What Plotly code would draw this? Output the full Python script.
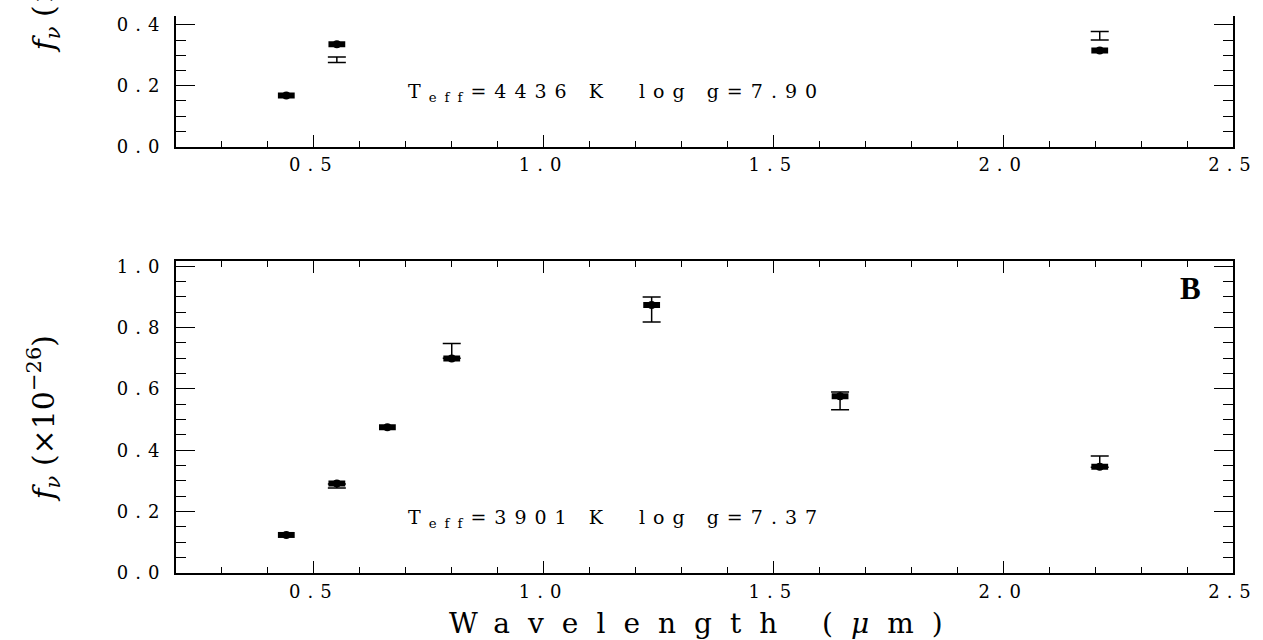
import plotly.graph_objects as go

# ---------------- data ----------------
# Panel A (top, partially cropped)
wl_top = [0.44, 0.55, 2.21]
model_top = [0.168, 0.336, 0.316]
obs_top_x = [0.55, 2.21]
obs_top_lo = [0.276, 0.350]
obs_top_hi = [0.294, 0.378]
label_top = "T<sub>eff</sub>=4436 K&nbsp;&nbsp;log g=7.90"

# Panel B (bottom)
wl_bot = [0.44, 0.55, 0.66, 0.80, 1.235, 1.645, 2.21]
model_bot = [0.124, 0.292, 0.475, 0.699, 0.874, 0.576, 0.346]
obs_bot_x = [0.55, 0.80, 1.235, 1.645, 2.21]
obs_bot_lo = [0.277, 0.700, 0.818, 0.532, 0.345]
obs_bot_hi = [0.290, 0.748, 0.900, 0.590, 0.381]
label_bot = "T<sub>eff</sub>=3901 K&nbsp;&nbsp;log g=7.37"

x_ticks = [0.5, 1.0, 1.5, 2.0, 2.5]
y_ticks_top = [0.0, 0.2, 0.4]
y_ticks_bot = [0.0, 0.2, 0.4, 0.6, 0.8, 1.0]

FONT = "DejaVu Serif"
LS = 7


def spaced(s, ls=LS):
    return f'<span style="letter-spacing:{ls}px">{s}</span>'


fig = go.Figure()


def add_panel(xs, ys, ox, lo, hi, xa, ya):
    mid = [(a + b) / 2 for a, b in zip(lo, hi)]
    half = [(b - a) / 2 for a, b in zip(lo, hi)]
    fig.add_trace(go.Scatter(
        x=ox, y=mid, mode="markers", xaxis=xa, yaxis=ya,
        marker=dict(size=1, color="rgba(0,0,0,0)"),
        error_y=dict(type="data", array=half, symmetric=True,
                     color="black", thickness=1.5, width=9),
        showlegend=False, hoverinfo="skip"))
    fig.add_trace(go.Scatter(
        x=xs, y=ys, mode="markers", xaxis=xa, yaxis=ya,
        marker=dict(symbol="line-ew", size=12,
                    line=dict(width=6, color="black")),
        showlegend=False, hoverinfo="skip"))
    fig.add_trace(go.Scatter(
        x=xs, y=ys, mode="markers", xaxis=xa, yaxis=ya,
        marker=dict(symbol="circle", size=8, color="black"),
        showlegend=False))


add_panel(wl_bot, model_bot, obs_bot_x, obs_bot_lo, obs_bot_hi, "x", "y")
add_panel(wl_top, model_top, obs_top_x, obs_top_lo, obs_top_hi, "x2", "y2")

tickfont = dict(family=FONT, size=18, color="black")

xcommon = dict(
    range=[0.2, 2.5], showgrid=False, zeroline=False,
    showline=True, linecolor="black", linewidth=2,
    ticks="inside", ticklen=12, tickwidth=1.3, tickcolor="black",
    tickvals=x_ticks, ticktext=[spaced(f"{v:.1f}") for v in x_ticks],
    tickfont=tickfont, ticklabelstandoff=1,
    minor=dict(dtick=0.1, tick0=0, ticks="inside", ticklen=6,
               tickwidth=1.3, tickcolor="black"),
)
ycommon = dict(
    showgrid=False, zeroline=False,
    showline=True, linecolor="black", linewidth=2,
    ticks="inside", ticklen=19, tickwidth=1.3, tickcolor="black",
    tickfont=tickfont, ticklabelstandoff=4,
    minor=dict(dtick=0.05, tick0=0, ticks="inside", ticklen=10,
               tickwidth=1.3, tickcolor="black"),
)

fig.update_layout(
    width=1263, height=640,
    margin=dict(l=176, r=30, t=0, b=67),
    paper_bgcolor="white", plot_bgcolor="white",
    xaxis=dict(**xcommon, domain=[0, 1], anchor="y", mirror="ticks"),
    yaxis=dict(**ycommon, domain=[0, 0.5497], anchor="x", mirror="ticks",
               range=[0, 1.016], tickvals=y_ticks_bot,
               ticktext=[spaced(f"{v:.1f}") for v in y_ticks_bot]),
    xaxis2=dict(**xcommon, domain=[0, 1], anchor="y2", mirror=False),
    yaxis2=dict(**ycommon, domain=[0.7522, 0.9825], anchor="x2",
                mirror="ticks", range=[0, 0.4293], tickvals=y_ticks_top,
                ticktext=[spaced(f"{v:.1f}") for v in y_ticks_top]),
)

ylabel = "<i>f</i><sub><i>ν</i></sub> (×10<sup>−26</sup>)"
annots = [
    dict(x=0.70, y=0.177, xref="x", yref="y", text=spaced(label_bot, 8),
         showarrow=False, xanchor="left", yanchor="middle",
         font=dict(family=FONT, size=19, color="black")),
    dict(x=0.70, y=0.176, xref="x2", yref="y2", text=spaced(label_top, 8),
         showarrow=False, xanchor="left", yanchor="middle",
         font=dict(family=FONT, size=19, color="black")),
    dict(x=2.407, y=0.929, xref="x", yref="y", text="<b>B</b>",
         showarrow=False, xanchor="center", yanchor="middle",
         font=dict(family="Liberation Serif", size=31, color="black")),
    dict(x=0.5, y=-0.056, xref="paper", yref="paper",
         text=spaced("Wavelength (<i>μ</i>m)", 18),
         showarrow=False, xanchor="center", yanchor="top",
         font=dict(family=FONT, size=28, color="black")),
    dict(x=-0.125, y=0.274, xref="paper", yref="paper", text=ylabel,
         textangle=-90, showarrow=False, xanchor="center", yanchor="middle",
         font=dict(family=FONT, size=30, color="black")),
    dict(x=-0.125, y=1.066, xref="paper", yref="paper", text=ylabel,
         textangle=-90, showarrow=False, xanchor="center", yanchor="middle",
         font=dict(family=FONT, size=30, color="black")),
]
fig.update_layout(annotations=annots)

fig.write_html("out.html")
